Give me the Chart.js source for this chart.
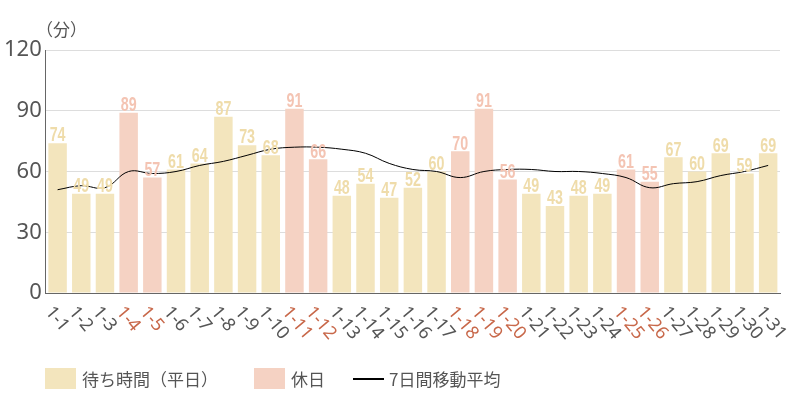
<!DOCTYPE html><html><head><meta charset="utf-8">
<script src="https://cdn.jsdelivr.net/npm/chart.js@4"></script>
<style>body{margin:0;background:#fff;font-family:"Noto Sans CJK JP","Noto Sans",sans-serif}
#w{position:relative;width:800px;height:400px}
#lg{position:absolute;left:45px;top:366px;font-size:17px;color:#555;display:flex;align-items:center}
.sw{display:inline-block;width:31px;height:21px;margin-right:6px}
</style></head><body><div id="w"><canvas id="c" width="800" height="400"></canvas>
<div id="lg"><span class="sw" style="background:#f3e5bd"></span><span style="margin-right:36px">待ち時間（平日）</span><span class="sw" style="background:#f5d2c3"></span><span style="margin-right:28px">休日</span><span style="display:inline-block;width:31px;border-top:2px solid #000;margin-right:5px"></span><span>7日間移動平均</span></div></div>
<script>
const labels=["1-1","1-2","1-3","1-4","1-5","1-6","1-7","1-8","1-9","1-10","1-11","1-12","1-13","1-14","1-15","1-16","1-17","1-18","1-19","1-20","1-21","1-22","1-23","1-24","1-25","1-26","1-27","1-28","1-29","1-30","1-31"];
const waits=[74,49,49,89,57,61,64,87,73,68,91,66,48,54,47,52,60,70,91,56,49,43,48,49,61,55,67,60,69,59,69];
const holidays=["1-4","1-5","1-11","1-12","1-18","1-19","1-20","1-25","1-26"];
const movingAvg=[51,53,52,60,59,60,63,65,68,71,72,72,71,69,64,61,60,57,60,61,61,60,60,59,57,52,54,55,58,60,63];
const yTicks=[0,30,60,90,120];
const isH=l=>holidays.includes(l);
const labelPlugin={id:'lp',afterDraw(ch){const c=ch.ctx,x=ch.scales.x,y=ch.scales.y,m=ch.getDatasetMeta(1);
c.save();c.textAlign='center';c.textBaseline='bottom';c.font='bold 21px "Liberation Sans",sans-serif';
m.data.forEach((b,i)=>{c.save();c.translate(b.x,b.y+3);c.scale(0.68,1);c.fillStyle=isH(labels[i])?'#f4c4b3':'#efdcaa';c.fillText(waits[i],0,0);c.restore();});
c.font='18px "Noto Sans",sans-serif';c.textAlign='left';c.textBaseline='middle';
labels.forEach((l,i)=>{const px=x.getPixelForValue(i);c.save();c.translate(px-9,y.bottom+16);c.rotate(50*Math.PI/180);c.fillStyle=isH(l)?'#c8684a':'#555';c.fillText(l,0,0);c.restore();});
c.fillStyle='#555';c.font='17px "Noto Sans CJK JP",sans-serif';c.textAlign='left';c.fillText('（分）',36,30);
c.restore();}};
new Chart(document.getElementById('c'),{data:{labels,datasets:[
{type:'line',data:movingAvg,borderColor:'#000',borderWidth:1,pointRadius:0,tension:0.4,order:0},
{type:'bar',data:waits,backgroundColor:labels.map(l=>isH(l)?'#f5d2c3':'#f3e5bd'),barPercentage:0.78,categoryPercentage:1,order:1}]},
options:{responsive:false,animation:false,layout:{padding:{left:0,right:20,top:50,bottom:99}},plugins:{legend:{display:false},tooltip:{enabled:false}},
scales:{x:{grid:{display:false},border:{color:'#666'},ticks:{display:false}},
y:{min:0,max:120,afterBuildTicks:s=>{s.ticks=yTicks.map(v=>({value:v}))},grid:{color:'#ddd',drawTicks:false},border:{color:'#666'},ticks:{color:'#555',padding:4,font:{size:22,family:'"Liberation Sans Narrow","Noto Sans",sans-serif'}}}}},plugins:[labelPlugin]});
</script></body></html>
